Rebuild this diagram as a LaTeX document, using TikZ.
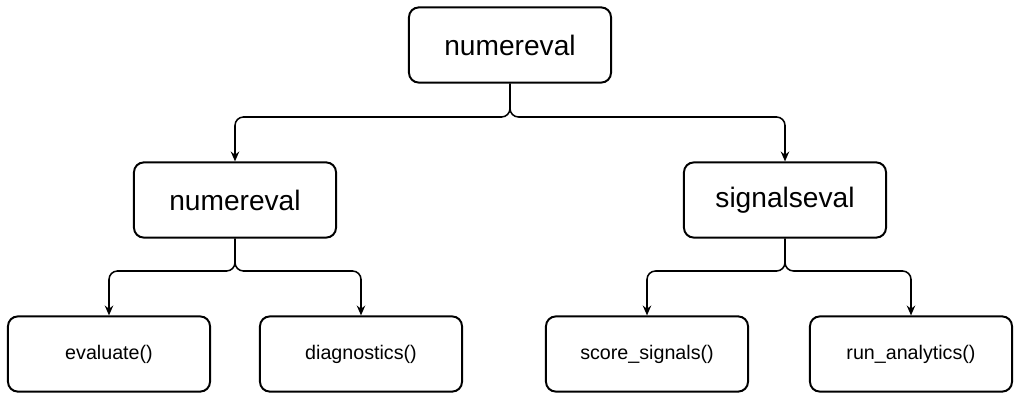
\documentclass[tikz,border=0pt]{standalone}
\usepackage{fontspec}
\setmainfont{Liberation Sans}
\usetikzlibrary{positioning,arrows.meta}
\begin{document}
\begin{tikzpicture}[x=0.025cm,y=-0.025cm,
    box/.style={draw,line width=1.4pt,rounded corners=7pt,minimum width=5.05cm,minimum height=1.88cm},
    big/.style={box,font=\fontsize{20}{24}\selectfont},
    small/.style={box,font=\fontsize{14}{17}\selectfont},
    link/.style={-{Stealth[length=7pt,width=6pt]},line width=1.1pt,rounded corners=6pt}]
    \useasboundingbox (0,0) rectangle (1020,400);
    \node[big] (top) at (510,45) {numereval};
    \node[big] (num) at (235,200) {numereval};
    \node[big] (sig) at (785,200) {signalseval};
    \node[small] (eval) at (109,354) {evaluate()};
    \node[small] (diag) at (361,354) {diagnostics()};
    \node[small] (score) at (647,354) {score\_signals()};
    \node[small] (run) at (911,354) {run\_analytics()};
    \draw[link] (top.south) |- (372,117) -| (num.north);
    \draw[link] (top.south) |- (648,117) -| (sig.north);
    \draw[link] (num.south) |- (172,271) -| (eval.north);
    \draw[link] (num.south) |- (298,271) -| (diag.north);
    \draw[link] (sig.south) |- (716,271) -| (score.north);
    \draw[link] (sig.south) |- (848,271) -| (run.north);
\end{tikzpicture}
\end{document}
